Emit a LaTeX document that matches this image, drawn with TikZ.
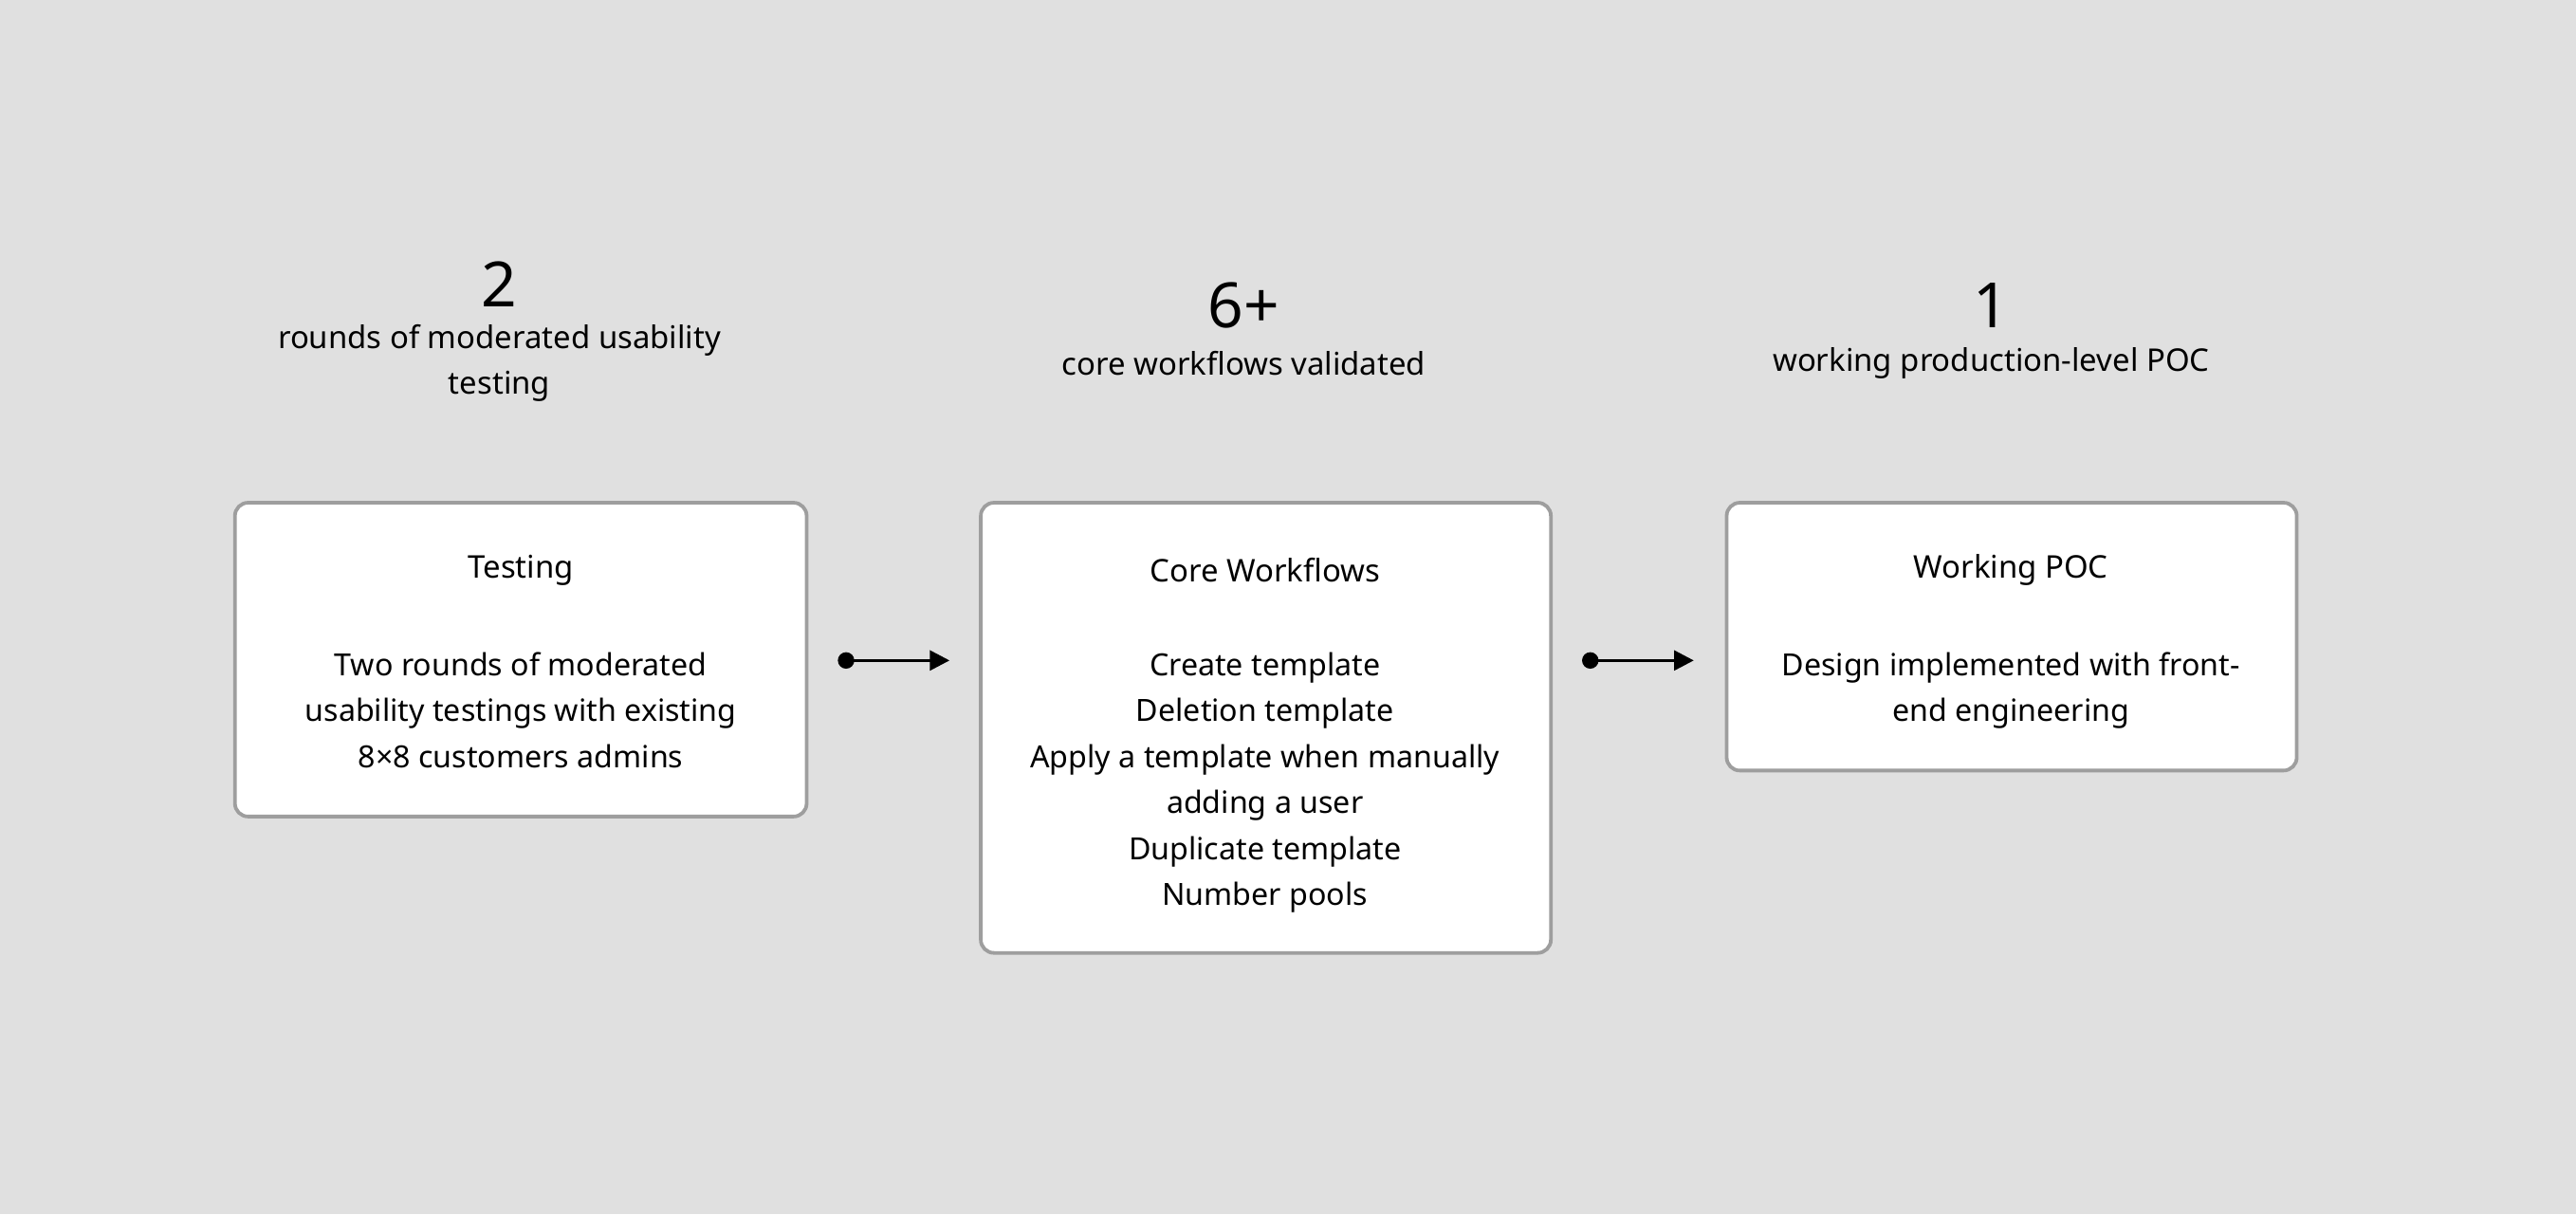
\documentclass[tikz,border=0pt]{standalone}
\usepackage{fontspec}
\setmainfont{Noto Sans}
\usetikzlibrary{arrows.meta}
\begin{document}
\begin{tikzpicture}[x=0.5pt,y=-0.5pt,
 box/.style={draw=black!38,line width=1.1pt,fill=white,rounded corners=4pt},
 ttl/.style={font=\fontsize{9.5}{12}\selectfont\bfseries},
 body/.style={font=\fontsize{9.3}{14}\selectfont,align=center},
 num/.style={font=\fontsize{19}{22}\selectfont\bfseries},
 sub/.style={font=\fontsize{9.5}{14}\selectfont\bfseries,align=center},
 con/.style={line width=1pt,{Circle[length=5pt]}-{Triangle[length=6pt,width=6pt]}}]
\fill[black!12] (0,0) rectangle (1568,739);
\useasboundingbox (0,0) rectangle (1568,739);
\draw[box] (143,306) rectangle (491,497);
\draw[box] (597,306) rectangle (944,580);
\draw[box] (1051,306) rectangle (1398,469);
\node[ttl] (t1) at (317,347) {Testing};
\node[ttl] (t2) at (770,347) {Core Workflows};
\node[ttl] (t3) at (1224,347) {Working POC};
\node[body,anchor=north] (b1) at (317,390) {Two rounds of moderated\\usability testings with existing\\8×8 customers admins};
\node[body,anchor=north] (b2) at (770,390) {Create template\\Deletion template\\Apply a template when manually\\adding a user\\Duplicate template\\Number pools};
\node[body,anchor=north] (b3) at (1224,390) {Design implemented with front-\\end engineering};
\coordinate (a1) at (510,402); \coordinate (a2) at (578,402);
\coordinate (a3) at (963,402); \coordinate (a4) at (1031,402);
\draw[con] (a1) -- (a2);
\draw[con] (a3) -- (a4);
\node[num] (n1) at (304,173) {2};
\node[sub] (s1) at (304,221) {rounds of moderated usability\\testing};
\node[num] (n2) at (757,186) {6+};
\node[sub] (s2) at (757,221) {core workflows validated};
\node[num] (n3) at (1212,186) {1};
\node[sub] (s3) at (1212,221) {working production-level POC};
\end{tikzpicture}
\end{document}
